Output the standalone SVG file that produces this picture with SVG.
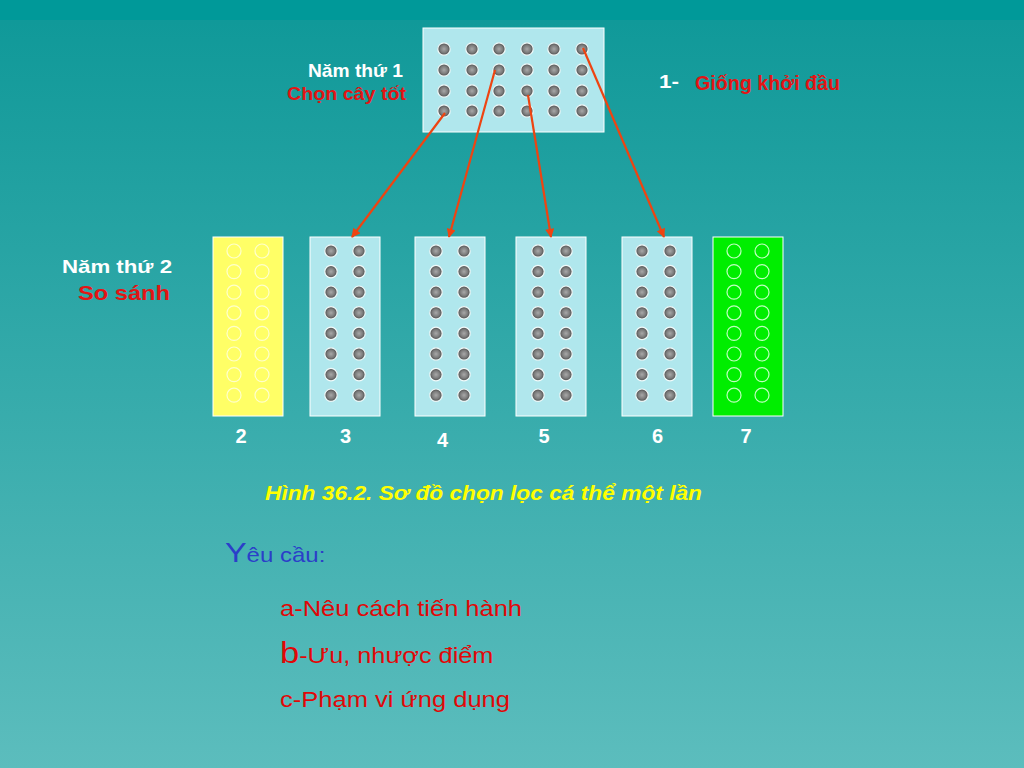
<svg xmlns="http://www.w3.org/2000/svg" width="1024" height="768" viewBox="0 0 1024 768">
<defs>
<linearGradient id="bg" x1="0" y1="0" x2="0" y2="1">
<stop offset="0" stop-color="#0e9898"/>
<stop offset="1" stop-color="#5cbdbd"/>
</linearGradient>
<radialGradient id="dotg" cx="0.5" cy="0.5" r="0.5">
<stop offset="0" stop-color="#a8a8a8"/>
<stop offset="0.6" stop-color="#7c7c7c"/>
<stop offset="1" stop-color="#4a4a4a"/>
</radialGradient>
<circle id="dot" r="6.2" fill="url(#dotg)" stroke="#f0fafa" stroke-width="1.2"/>
<circle id="hy" r="7" fill="none" stroke="#ffffcc" stroke-width="1.2"/>
<circle id="hg" r="7" fill="none" stroke="#c0ffc0" stroke-width="1.2"/>
<marker id="ah" viewBox="0 0 10 10" refX="9" refY="5" markerWidth="10" markerHeight="9" markerUnits="userSpaceOnUse" orient="auto">
<path d="M0,0 L10,5 L0,10 z" fill="#ee4411"/>
</marker>
</defs>
<style>
.box{fill:#b0e7ed;stroke:#ffffff;stroke-width:1}
.lbl{font-family:"Liberation Sans",Arial,sans-serif;font-weight:bold}
.w{fill:#ffffff}
.r{fill:#e31414}
.rr{font-family:"Liberation Sans",Arial,sans-serif;fill:#e00808}
.arr{stroke:#ee4411;stroke-width:2.2;fill:none;marker-end:url(#ah)}
</style>
<rect x="0" y="0" width="1024" height="768" fill="url(#bg)"/>
<rect x="0" y="0" width="1024" height="20" fill="#009999"/>

<g id="node-start">
<rect class="box" x="423" y="28" width="181" height="104"/>
<use href="#dot" x="444" y="49"/><use href="#dot" x="472" y="49"/><use href="#dot" x="499" y="49"/><use href="#dot" x="527" y="49"/><use href="#dot" x="554" y="49"/><use href="#dot" x="582" y="49"/>
<use href="#dot" x="444" y="70"/><use href="#dot" x="472" y="70"/><use href="#dot" x="499" y="70"/><use href="#dot" x="527" y="70"/><use href="#dot" x="554" y="70"/><use href="#dot" x="582" y="70"/>
<use href="#dot" x="444" y="91"/><use href="#dot" x="472" y="91"/><use href="#dot" x="499" y="91"/><use href="#dot" x="527" y="91"/><use href="#dot" x="554" y="91"/><use href="#dot" x="582" y="91"/>
<use href="#dot" x="444" y="111"/><use href="#dot" x="472" y="111"/><use href="#dot" x="499" y="111"/><use href="#dot" x="527" y="111"/><use href="#dot" x="554" y="111"/><use href="#dot" x="582" y="111"/>
</g>

<g id="node-2">
<rect x="213" y="237" width="70" height="179" fill="#ffff66" stroke="#ffffff" stroke-width="1"/>
<use href="#hy" x="234" y="251"/><use href="#hy" x="262" y="251"/>
<use href="#hy" x="234" y="271.6"/><use href="#hy" x="262" y="271.6"/>
<use href="#hy" x="234" y="292.2"/><use href="#hy" x="262" y="292.2"/>
<use href="#hy" x="234" y="312.8"/><use href="#hy" x="262" y="312.8"/>
<use href="#hy" x="234" y="333.4"/><use href="#hy" x="262" y="333.4"/>
<use href="#hy" x="234" y="354"/><use href="#hy" x="262" y="354"/>
<use href="#hy" x="234" y="374.6"/><use href="#hy" x="262" y="374.6"/>
<use href="#hy" x="234" y="395.2"/><use href="#hy" x="262" y="395.2"/>
<text class="lbl w" x="241" y="443" font-size="20" text-anchor="middle">2</text>
</g>

<g id="node-3">
<rect class="box" x="310" y="237" width="70" height="179"/>
<use href="#dot" x="331" y="251"/><use href="#dot" x="359" y="251"/>
<use href="#dot" x="331" y="271.6"/><use href="#dot" x="359" y="271.6"/>
<use href="#dot" x="331" y="292.2"/><use href="#dot" x="359" y="292.2"/>
<use href="#dot" x="331" y="312.8"/><use href="#dot" x="359" y="312.8"/>
<use href="#dot" x="331" y="333.4"/><use href="#dot" x="359" y="333.4"/>
<use href="#dot" x="331" y="354"/><use href="#dot" x="359" y="354"/>
<use href="#dot" x="331" y="374.6"/><use href="#dot" x="359" y="374.6"/>
<use href="#dot" x="331" y="395.2"/><use href="#dot" x="359" y="395.2"/>
<text class="lbl w" x="345.5" y="443" font-size="20" text-anchor="middle">3</text>
</g>

<g id="node-4">
<rect class="box" x="415" y="237" width="70" height="179"/>
<use href="#dot" x="436" y="251"/><use href="#dot" x="464" y="251"/>
<use href="#dot" x="436" y="271.6"/><use href="#dot" x="464" y="271.6"/>
<use href="#dot" x="436" y="292.2"/><use href="#dot" x="464" y="292.2"/>
<use href="#dot" x="436" y="312.8"/><use href="#dot" x="464" y="312.8"/>
<use href="#dot" x="436" y="333.4"/><use href="#dot" x="464" y="333.4"/>
<use href="#dot" x="436" y="354"/><use href="#dot" x="464" y="354"/>
<use href="#dot" x="436" y="374.6"/><use href="#dot" x="464" y="374.6"/>
<use href="#dot" x="436" y="395.2"/><use href="#dot" x="464" y="395.2"/>
<text class="lbl w" x="442.5" y="447" font-size="20" text-anchor="middle">4</text>
</g>

<g id="node-5">
<rect class="box" x="516" y="237" width="70" height="179"/>
<use href="#dot" x="538" y="251"/><use href="#dot" x="566" y="251"/>
<use href="#dot" x="538" y="271.6"/><use href="#dot" x="566" y="271.6"/>
<use href="#dot" x="538" y="292.2"/><use href="#dot" x="566" y="292.2"/>
<use href="#dot" x="538" y="312.8"/><use href="#dot" x="566" y="312.8"/>
<use href="#dot" x="538" y="333.4"/><use href="#dot" x="566" y="333.4"/>
<use href="#dot" x="538" y="354"/><use href="#dot" x="566" y="354"/>
<use href="#dot" x="538" y="374.6"/><use href="#dot" x="566" y="374.6"/>
<use href="#dot" x="538" y="395.2"/><use href="#dot" x="566" y="395.2"/>
<text class="lbl w" x="544" y="443" font-size="20" text-anchor="middle">5</text>
</g>

<g id="node-6">
<rect class="box" x="622" y="237" width="70" height="179"/>
<use href="#dot" x="642" y="251"/><use href="#dot" x="670" y="251"/>
<use href="#dot" x="642" y="271.6"/><use href="#dot" x="670" y="271.6"/>
<use href="#dot" x="642" y="292.2"/><use href="#dot" x="670" y="292.2"/>
<use href="#dot" x="642" y="312.8"/><use href="#dot" x="670" y="312.8"/>
<use href="#dot" x="642" y="333.4"/><use href="#dot" x="670" y="333.4"/>
<use href="#dot" x="642" y="354"/><use href="#dot" x="670" y="354"/>
<use href="#dot" x="642" y="374.6"/><use href="#dot" x="670" y="374.6"/>
<use href="#dot" x="642" y="395.2"/><use href="#dot" x="670" y="395.2"/>
<text class="lbl w" x="657.5" y="443" font-size="20" text-anchor="middle">6</text>
</g>

<g id="node-7">
<rect x="713" y="237" width="70" height="179" fill="#00ee00" stroke="#ffffff" stroke-width="1"/>
<use href="#hg" x="734" y="251"/><use href="#hg" x="762" y="251"/>
<use href="#hg" x="734" y="271.6"/><use href="#hg" x="762" y="271.6"/>
<use href="#hg" x="734" y="292.2"/><use href="#hg" x="762" y="292.2"/>
<use href="#hg" x="734" y="312.8"/><use href="#hg" x="762" y="312.8"/>
<use href="#hg" x="734" y="333.4"/><use href="#hg" x="762" y="333.4"/>
<use href="#hg" x="734" y="354"/><use href="#hg" x="762" y="354"/>
<use href="#hg" x="734" y="374.6"/><use href="#hg" x="762" y="374.6"/>
<use href="#hg" x="734" y="395.2"/><use href="#hg" x="762" y="395.2"/>
<text class="lbl w" x="746" y="443" font-size="20" text-anchor="middle">7</text>
</g>

<g id="connectors">
<line class="arr" x1="445" y1="113" x2="352" y2="237"/>
<line class="arr" x1="495" y1="70" x2="449" y2="237"/>
<line class="arr" x1="528" y1="95" x2="551" y2="237"/>
<line class="arr" x1="583" y1="48" x2="664" y2="237"/>
</g>

<g id="labels">
<text class="lbl w" x="308" y="77" font-size="18.5" textLength="95" lengthAdjust="spacingAndGlyphs">Năm thứ 1</text>
<text class="lbl r" x="287" y="100" font-size="19" textLength="119" lengthAdjust="spacingAndGlyphs">Chọn cây tốt</text>
<text class="lbl w" x="659" y="88" font-size="19" textLength="20" lengthAdjust="spacingAndGlyphs">1-</text>
<text class="lbl r" x="695" y="90" font-size="19.5" textLength="145" lengthAdjust="spacingAndGlyphs">Giống khởi đầu</text>
<text class="lbl w" x="62" y="273" font-size="18.5" textLength="110" lengthAdjust="spacingAndGlyphs">Năm thứ 2</text>
<text class="lbl r" x="78" y="300" font-size="21" textLength="92" lengthAdjust="spacingAndGlyphs">So sánh</text>
<text class="lbl" x="265" y="500" font-size="20" font-style="italic" fill="#ffff00" textLength="437" lengthAdjust="spacingAndGlyphs">Hình 36.2. Sơ đồ chọn lọc cá thể một lần</text>
</g>

<g id="requirements">
<text transform="translate(225,562) scale(1.2,1)" font-family="'Liberation Sans',Arial,sans-serif" fill="#2b3fc9"><tspan font-size="27">Y</tspan><tspan font-size="20">êu cầu:</tspan></text>
<text class="rr" x="280" y="616" font-size="22" textLength="242" lengthAdjust="spacingAndGlyphs">a-Nêu cách tiến hành</text>
<text class="rr" transform="translate(280,663) scale(1.15,1)"><tspan font-size="30">b</tspan><tspan font-size="22">-Ưu, nhược điểm</tspan></text>
<text class="rr" x="280" y="707" font-size="22" textLength="230" lengthAdjust="spacingAndGlyphs">c-Phạm vi ứng dụng</text>
</g>
</svg>
